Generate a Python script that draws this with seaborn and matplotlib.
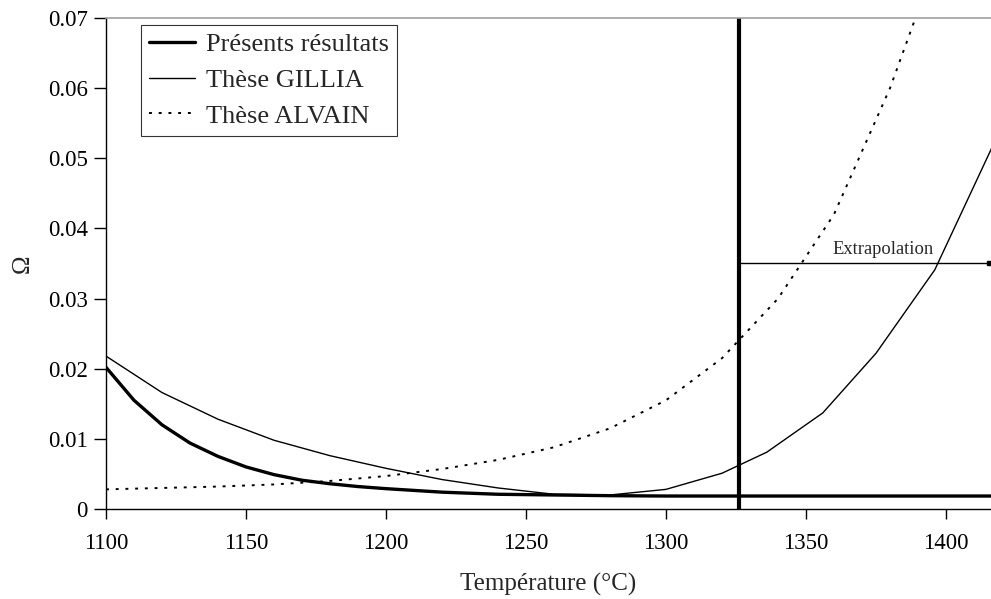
import matplotlib
matplotlib.use("Agg")
import matplotlib.pyplot as plt
import seaborn as sns
import pandas as pd

# ---- data ----
temp_present = [1100, 1110, 1120, 1130, 1140, 1150, 1160, 1170, 1180, 1190, 1200, 1220, 1240, 1260, 1280, 1300, 1350, 1420]
omega_present = [0.0202, 0.0155, 0.0120, 0.0094, 0.0075, 0.0060, 0.0049, 0.0041, 0.0036, 0.0032, 0.0029, 0.0024, 0.0021, 0.0020, 0.0019, 0.00185, 0.00185, 0.00185]

temp_gillia = [1100, 1120, 1140, 1160, 1180, 1200, 1220, 1240, 1260, 1280, 1300, 1320, 1336, 1356, 1375, 1396, 1420]
omega_gillia = [0.0218, 0.0166, 0.0128, 0.0098, 0.0076, 0.0058, 0.0042, 0.0030, 0.0021, 0.0020, 0.0028, 0.0051, 0.0081, 0.0137, 0.0222, 0.0341, 0.0546]

temp_alvain = [1100, 1120, 1140, 1160, 1180, 1200, 1220, 1240, 1260, 1280, 1300, 1320, 1340, 1360, 1380, 1400]
omega_alvain = [0.0028, 0.0030, 0.0032, 0.0035, 0.0040, 0.0047, 0.0057, 0.0070, 0.0088, 0.0115, 0.0155, 0.0215, 0.0300, 0.0420, 0.0600, 0.0820]

series_labels = ["Présents résultats", "Thèse GILLIA", "Thèse ALVAIN"]
x_ticks = [1100, 1150, 1200, 1250, 1300, 1350, 1400]
y_ticks = [0, 0.01, 0.02, 0.03, 0.04, 0.05, 0.06, 0.07]
y_ticklabels = ["0", "0.01", "0.02", "0.03", "0.04", "0.05", "0.06", "0.07"]
limit_temp = 1326
extrap_level = 0.0351
extrap_text = "Extrapolation"
x_label = "Température (°C)"
y_label = "Ω"

# ---- style ----
sns.set_style("ticks")
plt.rcParams["font.family"] = ["Liberation Serif", "DejaVu Serif"]

fig = plt.figure(figsize=(9.91, 5.99), dpi=100)
ax = fig.add_axes([106 / 991, 1 - 509 / 599, 885 / 991, (509 - 18) / 599])

df_p = pd.DataFrame({"T": temp_present, "O": omega_present})
df_g = pd.DataFrame({"T": temp_gillia, "O": omega_gillia})
df_a = pd.DataFrame({"T": temp_alvain, "O": omega_alvain})

sns.lineplot(data=df_p, x="T", y="O", ax=ax, color="black", linewidth=2.4, label=series_labels[0], sort=False)
sns.lineplot(data=df_g, x="T", y="O", ax=ax, color="black", linewidth=1.0, label=series_labels[1], sort=False)
sns.lineplot(data=df_a, x="T", y="O", ax=ax, color="black", linewidth=1.4, linestyle=(0, (1.5, 3.5)), label=series_labels[2], sort=False)

xmax = 1100 + (991 - 106) / 2.8
ax.set_xlim(1100, xmax)
ax.set_ylim(0, 0.07)

# vertical limit line
ax.axvline(limit_temp, color="black", linewidth=3.0, ymin=0, ymax=1)
# extrapolation arrow
ax.plot([limit_temp, xmax], [extrap_level, extrap_level], color="black", linewidth=1.0, clip_on=False)
ax.plot([xmax - 0.6], [extrap_level], marker="s", markersize=3.5, color="black", clip_on=False)
ax.text(1377.5, extrap_level + 0.0007, extrap_text, ha="center", va="bottom", fontsize=13.3)

ax.set_xticks(x_ticks)
ax.set_yticks(y_ticks)
ax.set_yticklabels(y_ticklabels)
ax.tick_params(axis="x", direction="out", length=7, width=1, labelsize=16.5, colors="black", pad=10)
ax.tick_params(axis="y", direction="out", length=9, width=1, labelsize=16.5, colors="black", pad=4)

ax.set_xlabel(x_label, fontsize=18, labelpad=14)
ax.set_ylabel(y_label, fontsize=18, labelpad=10)

for s in ["left", "bottom"]:
    ax.spines[s].set_color("black")
    ax.spines[s].set_linewidth(1.0)
ax.spines["top"].set_color("#a0a0a0")
ax.spines["top"].set_linewidth(1.2)
ax.spines["right"].set_visible(False)

leg = ax.legend(loc="upper left", bbox_to_anchor=(35 / 885, 1 - 7 / 491), fontsize=19,
                frameon=True, fancybox=False, handlelength=1.75, handletextpad=0.4,
                borderpad=0.3, labelspacing=0.46, borderaxespad=0)
leg.get_frame().set_edgecolor("black")
leg.get_frame().set_linewidth(0.8)

fig.savefig("out.png", dpi=100)
